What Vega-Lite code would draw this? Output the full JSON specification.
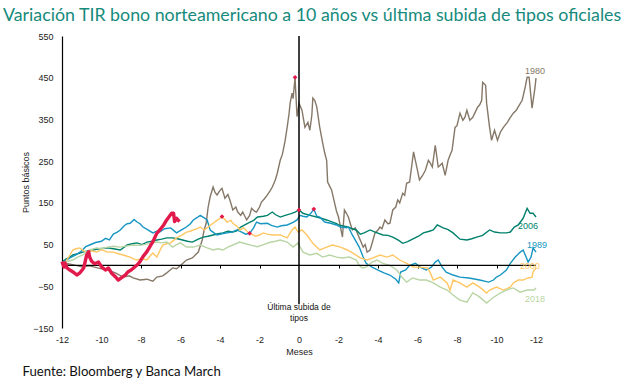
{
  "$schema": "https://vega.github.io/schema/vega-lite/v6.json",
  "width": 474,
  "height": 292,
  "autosize": {"type": "none"},
  "padding": {"left": 62, "top": 36, "right": 104, "bottom": 51},
  "background": "white",
  "title": {
    "text": "Variación TIR bono norteamericano a 10 años vs última subida de tipos oficiales",
    "anchor": "start",
    "frame": "group",
    "dx": -59,
    "offset": 12,
    "dy": 19,
    "baseline": "alphabetic",
    "font": "Lato",
    "fontSize": 17.8,
    "fontWeight": "normal",
    "color": "#168a7c"
  },
  "config": {
    "view": {"stroke": null},
    "axis": {"labelFont": "Liberation Sans", "titleFont": "Liberation Sans", "labelColor": "#222222", "titleColor": "#222222", "grid": false}
  },
  "datasets": {
    "hist": [
      {"s":"1980","m":-12,"v":2},{"s":"1980","m":-11.7,"v":4},{"s":"1980","m":-11.3,"v":0},{"s":"1980","m":-11,"v":-3},{"s":"1980","m":-10.6,"v":-1},{"s":"1980","m":-10.2,"v":-6},{"s":"1980","m":-9.7,"v":-11},{"s":"1980","m":-9.3,"v":-18},{"s":"1980","m":-8.9,"v":-28},{"s":"1980","m":-8.6,"v":-25},{"s":"1980","m":-8.4,"v":-30},{"s":"1980","m":-8.05,"v":-35},{"s":"1980","m":-7.7,"v":-33},{"s":"1980","m":-7.4,"v":-38},{"s":"1980","m":-7.2,"v":-28},{"s":"1980","m":-6.9,"v":-25},{"s":"1980","m":-6.7,"v":-18},{"s":"1980","m":-6.4,"v":-6},{"s":"1980","m":-6.2,"v":-8},{"s":"1980","m":-6,"v":0},{"s":"1980","m":-5.7,"v":13},{"s":"1980","m":-5.4,"v":18},{"s":"1980","m":-5.1,"v":32},{"s":"1980","m":-4.9,"v":61},{"s":"1980","m":-4.8,"v":85},{"s":"1980","m":-4.7,"v":101},{"s":"1980","m":-4.6,"v":140},{"s":"1980","m":-4.5,"v":164},{"s":"1980","m":-4.35,"v":188},{"s":"1980","m":-4.25,"v":175},{"s":"1980","m":-4.15,"v":169},{"s":"1980","m":-4,"v":180},{"s":"1980","m":-3.9,"v":185},{"s":"1980","m":-3.75,"v":161},{"s":"1980","m":-3.6,"v":170},{"s":"1980","m":-3.5,"v":157},{"s":"1980","m":-3.35,"v":133},{"s":"1980","m":-3.2,"v":140},{"s":"1980","m":-3.1,"v":128},{"s":"1980","m":-2.95,"v":120},{"s":"1980","m":-2.85,"v":128},{"s":"1980","m":-2.65,"v":109},{"s":"1980","m":-2.5,"v":120},{"s":"1980","m":-2.4,"v":137},{"s":"1980","m":-2.25,"v":130},{"s":"1980","m":-2.15,"v":128},{"s":"1980","m":-2,"v":140},{"s":"1980","m":-1.9,"v":152},{"s":"1980","m":-1.75,"v":160},{"s":"1980","m":-1.6,"v":169},{"s":"1980","m":-1.45,"v":180},{"s":"1980","m":-1.35,"v":188},{"s":"1980","m":-1.2,"v":205},{"s":"1980","m":-1.1,"v":221},{"s":"1980","m":-0.95,"v":252},{"s":"1980","m":-0.85,"v":265},{"s":"1980","m":-0.8,"v":276},{"s":"1980","m":-0.7,"v":300},{"s":"1980","m":-0.6,"v":331},{"s":"1980","m":-0.5,"v":365},{"s":"1980","m":-0.45,"v":389},{"s":"1980","m":-0.35,"v":413},{"s":"1980","m":-0.3,"v":400},{"s":"1980","m":-0.2,"v":449},{"s":"1980","m":-0.1,"v":357},{"s":"1980","m":-0.05,"v":370},{"s":"1980","m":0,"v":389},{"s":"1980","m":0.15,"v":372},{"s":"1980","m":0.3,"v":331},{"s":"1980","m":0.45,"v":343},{"s":"1980","m":0.55,"v":324},{"s":"1980","m":0.65,"v":360},{"s":"1980","m":0.7,"v":401},{"s":"1980","m":0.8,"v":395},{"s":"1980","m":0.9,"v":380},{"s":"1980","m":1.05,"v":331},{"s":"1980","m":1.2,"v":293},{"s":"1980","m":1.3,"v":270},{"s":"1980","m":1.4,"v":252},{"s":"1980","m":1.45,"v":200},{"s":"1980","m":1.55,"v":190},{"s":"1980","m":1.65,"v":181},{"s":"1980","m":1.8,"v":150},{"s":"1980","m":1.9,"v":130},{"s":"1980","m":2,"v":116},{"s":"1980","m":2.1,"v":92},{"s":"1980","m":2.2,"v":68},{"s":"1980","m":2.3,"v":133},{"s":"1980","m":2.4,"v":125},{"s":"1980","m":2.5,"v":116},{"s":"1980","m":2.6,"v":100},{"s":"1980","m":2.7,"v":85},{"s":"1980","m":2.85,"v":90},{"s":"1980","m":2.95,"v":78},{"s":"1980","m":3.1,"v":61},{"s":"1980","m":3.25,"v":44},{"s":"1980","m":3.35,"v":50},{"s":"1980","m":3.45,"v":32},{"s":"1980","m":3.6,"v":37},{"s":"1980","m":3.7,"v":53},{"s":"1980","m":3.85,"v":78},{"s":"1980","m":4,"v":85},{"s":"1980","m":4.1,"v":92},{"s":"1980","m":4.2,"v":88},{"s":"1980","m":4.35,"v":109},{"s":"1980","m":4.5,"v":100},{"s":"1980","m":4.6,"v":101},{"s":"1980","m":4.75,"v":133},{"s":"1980","m":4.9,"v":140},{"s":"1980","m":5,"v":157},{"s":"1980","m":5.1,"v":150},{"s":"1980","m":5.25,"v":173},{"s":"1980","m":5.35,"v":168},{"s":"1980","m":5.45,"v":197},{"s":"1980","m":5.6,"v":200},{"s":"1980","m":5.7,"v":236},{"s":"1980","m":5.8,"v":272},{"s":"1980","m":5.9,"v":250},{"s":"1980","m":6,"v":228},{"s":"1980","m":6.1,"v":205},{"s":"1980","m":6.25,"v":215},{"s":"1980","m":6.4,"v":228},{"s":"1980","m":6.55,"v":252},{"s":"1980","m":6.65,"v":245},{"s":"1980","m":6.75,"v":236},{"s":"1980","m":6.9,"v":288},{"s":"1980","m":7.05,"v":236},{"s":"1980","m":7.15,"v":240},{"s":"1980","m":7.25,"v":245},{"s":"1980","m":7.4,"v":216},{"s":"1980","m":7.55,"v":252},{"s":"1980","m":7.65,"v":265},{"s":"1980","m":7.75,"v":276},{"s":"1980","m":7.9,"v":331},{"s":"1980","m":8,"v":335},{"s":"1980","m":8.15,"v":365},{"s":"1980","m":8.3,"v":348},{"s":"1980","m":8.4,"v":355},{"s":"1980","m":8.5,"v":372},{"s":"1980","m":8.65,"v":348},{"s":"1980","m":8.8,"v":355},{"s":"1980","m":8.9,"v":365},{"s":"1980","m":9.05,"v":380},{"s":"1980","m":9.15,"v":385},{"s":"1980","m":9.25,"v":396},{"s":"1980","m":9.3,"v":439},{"s":"1980","m":9.45,"v":432},{"s":"1980","m":9.5,"v":389},{"s":"1980","m":9.65,"v":331},{"s":"1980","m":9.75,"v":300},{"s":"1980","m":9.9,"v":324},{"s":"1980","m":10.05,"v":300},{"s":"1980","m":10.2,"v":320},{"s":"1980","m":10.35,"v":331},{"s":"1980","m":10.55,"v":343},{"s":"1980","m":10.7,"v":355},{"s":"1980","m":10.85,"v":365},{"s":"1980","m":11,"v":372},{"s":"1980","m":11.1,"v":380},{"s":"1980","m":11.3,"v":396},{"s":"1980","m":11.45,"v":427},{"s":"1980","m":11.55,"v":451},{"s":"1980","m":11.65,"v":451},{"s":"1980","m":11.8,"v":377},{"s":"1980","m":11.95,"v":427},{"s":"1980","m":12,"v":449},

      {"s":"2006","m":-12,"v":8},{"s":"2006","m":-11.8,"v":15},{"s":"2006","m":-11.6,"v":20},{"s":"2006","m":-11.45,"v":25},{"s":"2006","m":-11.2,"v":28},{"s":"2006","m":-10.95,"v":32},{"s":"2006","m":-10.7,"v":35},{"s":"2006","m":-10.45,"v":37},{"s":"2006","m":-10.1,"v":40},{"s":"2006","m":-9.7,"v":42},{"s":"2006","m":-9.4,"v":40},{"s":"2006","m":-9.05,"v":37},{"s":"2006","m":-8.85,"v":44},{"s":"2006","m":-8.7,"v":49},{"s":"2006","m":-8.45,"v":52},{"s":"2006","m":-8.2,"v":54},{"s":"2006","m":-7.95,"v":50},{"s":"2006","m":-7.7,"v":56},{"s":"2006","m":-7.45,"v":58},{"s":"2006","m":-7.2,"v":61},{"s":"2006","m":-6.95,"v":63},{"s":"2006","m":-6.7,"v":66},{"s":"2006","m":-6.4,"v":66},{"s":"2006","m":-6.15,"v":64},{"s":"2006","m":-5.9,"v":61},{"s":"2006","m":-5.65,"v":58},{"s":"2006","m":-5.4,"v":56},{"s":"2006","m":-5.1,"v":63},{"s":"2006","m":-4.85,"v":68},{"s":"2006","m":-4.6,"v":70},{"s":"2006","m":-4.35,"v":73},{"s":"2006","m":-4.1,"v":76},{"s":"2006","m":-3.85,"v":78},{"s":"2006","m":-3.6,"v":82},{"s":"2006","m":-3.35,"v":80},{"s":"2006","m":-3.15,"v":83},{"s":"2006","m":-2.95,"v":92},{"s":"2006","m":-2.6,"v":101},{"s":"2006","m":-2.3,"v":108},{"s":"2006","m":-2.1,"v":116},{"s":"2006","m":-1.8,"v":118},{"s":"2006","m":-1.6,"v":120},{"s":"2006","m":-1.35,"v":128},{"s":"2006","m":-1.2,"v":122},{"s":"2006","m":-0.95,"v":116},{"s":"2006","m":-0.7,"v":120},{"s":"2006","m":-0.4,"v":124},{"s":"2006","m":-0.2,"v":128},{"s":"2006","m":0,"v":133},{"s":"2006","m":0.2,"v":125},{"s":"2006","m":0.55,"v":120},{"s":"2006","m":0.9,"v":116},{"s":"2006","m":1.2,"v":112},{"s":"2006","m":1.4,"v":109},{"s":"2006","m":1.7,"v":104},{"s":"2006","m":1.9,"v":100},{"s":"2006","m":2,"v":97},{"s":"2006","m":2.3,"v":94},{"s":"2006","m":2.5,"v":92},{"s":"2006","m":2.7,"v":88},{"s":"2006","m":2.9,"v":85},{"s":"2006","m":3.1,"v":75},{"s":"2006","m":3.3,"v":78},{"s":"2006","m":3.6,"v":85},{"s":"2006","m":3.85,"v":80},{"s":"2006","m":4.25,"v":73},{"s":"2006","m":4.5,"v":72},{"s":"2006","m":4.75,"v":68},{"s":"2006","m":5.05,"v":60},{"s":"2006","m":5.25,"v":53},{"s":"2006","m":5.5,"v":57},{"s":"2006","m":5.8,"v":64},{"s":"2006","m":6.05,"v":70},{"s":"2006","m":6.3,"v":78},{"s":"2006","m":6.6,"v":82},{"s":"2006","m":6.8,"v":85},{"s":"2006","m":7,"v":97},{"s":"2006","m":7.3,"v":90},{"s":"2006","m":7.55,"v":86},{"s":"2006","m":7.8,"v":78},{"s":"2006","m":8.15,"v":63},{"s":"2006","m":8.5,"v":61},{"s":"2006","m":8.75,"v":64},{"s":"2006","m":9,"v":68},{"s":"2006","m":9.3,"v":72},{"s":"2006","m":9.65,"v":85},{"s":"2006","m":9.9,"v":80},{"s":"2006","m":10.2,"v":78},{"s":"2006","m":10.5,"v":78},{"s":"2006","m":10.7,"v":80},{"s":"2006","m":10.9,"v":92},{"s":"2006","m":11.1,"v":97},{"s":"2006","m":11.35,"v":113},{"s":"2006","m":11.55,"v":137},{"s":"2006","m":11.7,"v":125},{"s":"2006","m":11.85,"v":125},{"s":"2006","m":12,"v":116},

      {"s":"1989","m":-12,"v":5},{"s":"1989","m":-11.8,"v":12},{"s":"1989","m":-11.6,"v":18},{"s":"1989","m":-11.3,"v":25},{"s":"1989","m":-11,"v":35},{"s":"1989","m":-10.8,"v":45},{"s":"1989","m":-10.6,"v":49},{"s":"1989","m":-10.3,"v":55},{"s":"1989","m":-10,"v":58},{"s":"1989","m":-9.8,"v":65},{"s":"1989","m":-9.6,"v":61},{"s":"1989","m":-9.4,"v":75},{"s":"1989","m":-9.2,"v":80},{"s":"1989","m":-9.05,"v":85},{"s":"1989","m":-8.85,"v":95},{"s":"1989","m":-8.7,"v":100},{"s":"1989","m":-8.55,"v":101},{"s":"1989","m":-8.35,"v":110},{"s":"1989","m":-8.2,"v":104},{"s":"1989","m":-8.05,"v":100},{"s":"1989","m":-7.9,"v":92},{"s":"1989","m":-7.65,"v":85},{"s":"1989","m":-7.4,"v":78},{"s":"1989","m":-7.2,"v":82},{"s":"1989","m":-7.05,"v":80},{"s":"1989","m":-6.8,"v":88},{"s":"1989","m":-6.5,"v":90},{"s":"1989","m":-6.35,"v":84},{"s":"1989","m":-6.2,"v":78},{"s":"1989","m":-5.95,"v":85},{"s":"1989","m":-5.7,"v":92},{"s":"1989","m":-5.5,"v":100},{"s":"1989","m":-5.35,"v":109},{"s":"1989","m":-5.15,"v":115},{"s":"1989","m":-5,"v":120},{"s":"1989","m":-4.8,"v":114},{"s":"1989","m":-4.65,"v":109},{"s":"1989","m":-4.5,"v":85},{"s":"1989","m":-4.3,"v":78},{"s":"1989","m":-4.15,"v":73},{"s":"1989","m":-3.9,"v":76},{"s":"1989","m":-3.65,"v":78},{"s":"1989","m":-3.4,"v":80},{"s":"1989","m":-3.15,"v":85},{"s":"1989","m":-2.9,"v":80},{"s":"1989","m":-2.7,"v":75},{"s":"1989","m":-2.5,"v":77},{"s":"1989","m":-2.3,"v":90},{"s":"1989","m":-2.15,"v":104},{"s":"1989","m":-1.95,"v":100},{"s":"1989","m":-1.6,"v":101},{"s":"1989","m":-1.4,"v":96},{"s":"1989","m":-1.1,"v":92},{"s":"1989","m":-0.9,"v":95},{"s":"1989","m":-0.6,"v":97},{"s":"1989","m":-0.3,"v":103},{"s":"1989","m":-0.1,"v":109},{"s":"1989","m":0.05,"v":120},{"s":"1989","m":0.2,"v":118},{"s":"1989","m":0.4,"v":116},{"s":"1989","m":0.6,"v":125},{"s":"1989","m":0.75,"v":135},{"s":"1989","m":0.9,"v":118},{"s":"1989","m":1.05,"v":116},{"s":"1989","m":1.3,"v":104},{"s":"1989","m":1.6,"v":101},{"s":"1989","m":1.9,"v":97},{"s":"1989","m":2.1,"v":92},{"s":"1989","m":2.4,"v":90},{"s":"1989","m":2.5,"v":92},{"s":"1989","m":2.7,"v":73},{"s":"1989","m":2.8,"v":65},{"s":"1989","m":3.05,"v":44},{"s":"1989","m":3.25,"v":20},{"s":"1989","m":3.4,"v":5},{"s":"1989","m":3.7,"v":-4},{"s":"1989","m":4,"v":-11},{"s":"1989","m":4.3,"v":-18},{"s":"1989","m":4.6,"v":-23},{"s":"1989","m":4.9,"v":-33},{"s":"1989","m":5.05,"v":-42},{"s":"1989","m":5.15,"v":-16},{"s":"1989","m":5.4,"v":-11},{"s":"1989","m":5.6,"v":0},{"s":"1989","m":5.9,"v":5},{"s":"1989","m":6.2,"v":-6},{"s":"1989","m":6.45,"v":-11},{"s":"1989","m":6.7,"v":-4},{"s":"1989","m":6.9,"v":8},{"s":"1989","m":7.05,"v":13},{"s":"1989","m":7.25,"v":-4},{"s":"1989","m":7.45,"v":-16},{"s":"1989","m":7.8,"v":-23},{"s":"1989","m":8.15,"v":-28},{"s":"1989","m":8.6,"v":-30},{"s":"1989","m":9.15,"v":-35},{"s":"1989","m":9.6,"v":-40},{"s":"1989","m":9.85,"v":-35},{"s":"1989","m":10,"v":-28},{"s":"1989","m":10.2,"v":-23},{"s":"1989","m":10.5,"v":-11},{"s":"1989","m":10.7,"v":5},{"s":"1989","m":10.95,"v":20},{"s":"1989","m":11.2,"v":32},{"s":"1989","m":11.35,"v":37},{"s":"1989","m":11.5,"v":20},{"s":"1989","m":11.6,"v":8},{"s":"1989","m":11.75,"v":20},{"s":"1989","m":11.85,"v":42},{"s":"1989","m":12,"v":32},

      {"s":"2000","m":-12,"v":3},{"s":"2000","m":-11.8,"v":10},{"s":"2000","m":-11.6,"v":25},{"s":"2000","m":-11.45,"v":37},{"s":"2000","m":-11.3,"v":40},{"s":"2000","m":-11.1,"v":42},{"s":"2000","m":-10.9,"v":35},{"s":"2000","m":-10.75,"v":32},{"s":"2000","m":-10.5,"v":35},{"s":"2000","m":-10.25,"v":32},{"s":"2000","m":-10,"v":38},{"s":"2000","m":-9.7,"v":32},{"s":"2000","m":-9.4,"v":32},{"s":"2000","m":-9.15,"v":28},{"s":"2000","m":-8.9,"v":25},{"s":"2000","m":-8.7,"v":22},{"s":"2000","m":-8.55,"v":20},{"s":"2000","m":-8.35,"v":15},{"s":"2000","m":-8.2,"v":13},{"s":"2000","m":-7.95,"v":16},{"s":"2000","m":-7.7,"v":13},{"s":"2000","m":-7.55,"v":22},{"s":"2000","m":-7.4,"v":30},{"s":"2000","m":-7.2,"v":20},{"s":"2000","m":-7.05,"v":35},{"s":"2000","m":-6.9,"v":49},{"s":"2000","m":-6.7,"v":52},{"s":"2000","m":-6.5,"v":54},{"s":"2000","m":-6.35,"v":60},{"s":"2000","m":-6.2,"v":66},{"s":"2000","m":-5.95,"v":72},{"s":"2000","m":-5.7,"v":80},{"s":"2000","m":-5.5,"v":82},{"s":"2000","m":-5.35,"v":85},{"s":"2000","m":-5.15,"v":88},{"s":"2000","m":-5,"v":92},{"s":"2000","m":-4.8,"v":85},{"s":"2000","m":-4.65,"v":90},{"s":"2000","m":-4.5,"v":96},{"s":"2000","m":-4.35,"v":101},{"s":"2000","m":-4.15,"v":108},{"s":"2000","m":-4,"v":113},{"s":"2000","m":-3.9,"v":117},{"s":"2000","m":-3.75,"v":110},{"s":"2000","m":-3.65,"v":104},{"s":"2000","m":-3.45,"v":108},{"s":"2000","m":-3.35,"v":101},{"s":"2000","m":-3.1,"v":92},{"s":"2000","m":-3,"v":85},{"s":"2000","m":-2.8,"v":90},{"s":"2000","m":-2.6,"v":80},{"s":"2000","m":-2.4,"v":75},{"s":"2000","m":-2.2,"v":70},{"s":"2000","m":-2,"v":73},{"s":"2000","m":-1.8,"v":78},{"s":"2000","m":-1.6,"v":75},{"s":"2000","m":-1.35,"v":73},{"s":"2000","m":-0.95,"v":73},{"s":"2000","m":-0.6,"v":66},{"s":"2000","m":-0.35,"v":85},{"s":"2000","m":-0.2,"v":92},{"s":"2000","m":-0.05,"v":80},{"s":"2000","m":0.15,"v":85},{"s":"2000","m":0.4,"v":73},{"s":"2000","m":0.7,"v":53},{"s":"2000","m":1.05,"v":37},{"s":"2000","m":1.4,"v":44},{"s":"2000","m":1.7,"v":49},{"s":"2000","m":2.1,"v":44},{"s":"2000","m":2.45,"v":37},{"s":"2000","m":2.75,"v":29},{"s":"2000","m":3.1,"v":18},{"s":"2000","m":3.45,"v":13},{"s":"2000","m":3.75,"v":18},{"s":"2000","m":4.1,"v":25},{"s":"2000","m":4.45,"v":20},{"s":"2000","m":4.75,"v":25},{"s":"2000","m":5.1,"v":13},{"s":"2000","m":5.45,"v":5},{"s":"2000","m":5.8,"v":-4},{"s":"2000","m":6.1,"v":-4},{"s":"2000","m":6.5,"v":-6},{"s":"2000","m":6.65,"v":-18},{"s":"2000","m":6.8,"v":-35},{"s":"2000","m":7.15,"v":-28},{"s":"2000","m":7.5,"v":-42},{"s":"2000","m":7.65,"v":-59},{"s":"2000","m":7.8,"v":-35},{"s":"2000","m":8.15,"v":-42},{"s":"2000","m":8.5,"v":-52},{"s":"2000","m":8.8,"v":-42},{"s":"2000","m":9.15,"v":-52},{"s":"2000","m":9.5,"v":-66},{"s":"2000","m":9.65,"v":-59},{"s":"2000","m":10,"v":-52},{"s":"2000","m":10.35,"v":-59},{"s":"2000","m":10.7,"v":-52},{"s":"2000","m":10.85,"v":-42},{"s":"2000","m":11.1,"v":-35},{"s":"2000","m":11.35,"v":-35},{"s":"2000","m":11.6,"v":-30},{"s":"2000","m":11.8,"v":-28},{"s":"2000","m":11.85,"v":-16},{"s":"2000","m":12,"v":-6},

      {"s":"2018","m":-12,"v":5},{"s":"2018","m":-11.7,"v":10},{"s":"2018","m":-11.45,"v":13},{"s":"2018","m":-11.2,"v":20},{"s":"2018","m":-10.95,"v":25},{"s":"2018","m":-10.6,"v":37},{"s":"2018","m":-10.25,"v":42},{"s":"2018","m":-10,"v":40},{"s":"2018","m":-9.7,"v":44},{"s":"2018","m":-9.4,"v":46},{"s":"2018","m":-9.05,"v":44},{"s":"2018","m":-8.7,"v":47},{"s":"2018","m":-8.4,"v":49},{"s":"2018","m":-8.05,"v":48},{"s":"2018","m":-7.7,"v":51},{"s":"2018","m":-7.45,"v":53},{"s":"2018","m":-7.2,"v":56},{"s":"2018","m":-6.95,"v":54},{"s":"2018","m":-6.7,"v":56},{"s":"2018","m":-6.4,"v":44},{"s":"2018","m":-6.2,"v":50},{"s":"2018","m":-6,"v":54},{"s":"2018","m":-5.7,"v":44},{"s":"2018","m":-5.35,"v":44},{"s":"2018","m":-5,"v":49},{"s":"2018","m":-4.65,"v":42},{"s":"2018","m":-4.35,"v":37},{"s":"2018","m":-4.1,"v":40},{"s":"2018","m":-3.85,"v":37},{"s":"2018","m":-3.6,"v":44},{"s":"2018","m":-3.35,"v":49},{"s":"2018","m":-3,"v":56},{"s":"2018","m":-2.7,"v":52},{"s":"2018","m":-2.4,"v":48},{"s":"2018","m":-2.1,"v":45},{"s":"2018","m":-1.8,"v":50},{"s":"2018","m":-1.5,"v":55},{"s":"2018","m":-1.2,"v":58},{"s":"2018","m":-0.95,"v":61},{"s":"2018","m":-0.6,"v":56},{"s":"2018","m":-0.3,"v":44},{"s":"2018","m":-0.05,"v":54},{"s":"2018","m":0.2,"v":32},{"s":"2018","m":0.55,"v":25},{"s":"2018","m":0.9,"v":29},{"s":"2018","m":1.2,"v":20},{"s":"2018","m":1.55,"v":25},{"s":"2018","m":1.9,"v":20},{"s":"2018","m":2.2,"v":18},{"s":"2018","m":2.55,"v":20},{"s":"2018","m":2.9,"v":13},{"s":"2018","m":3.05,"v":0},{"s":"2018","m":3.2,"v":-6},{"s":"2018","m":3.4,"v":-4},{"s":"2018","m":3.7,"v":8},{"s":"2018","m":3.95,"v":13},{"s":"2018","m":4.25,"v":5},{"s":"2018","m":4.6,"v":0},{"s":"2018","m":4.95,"v":-11},{"s":"2018","m":5.25,"v":-30},{"s":"2018","m":5.45,"v":-40},{"s":"2018","m":5.75,"v":-30},{"s":"2018","m":6.1,"v":-35},{"s":"2018","m":6.45,"v":-35},{"s":"2018","m":6.8,"v":-42},{"s":"2018","m":7.15,"v":-52},{"s":"2018","m":7.5,"v":-59},{"s":"2018","m":7.8,"v":-71},{"s":"2018","m":8.15,"v":-83},{"s":"2018","m":8.5,"v":-88},{"s":"2018","m":8.8,"v":-66},{"s":"2018","m":9,"v":-71},{"s":"2018","m":9.15,"v":-76},{"s":"2018","m":9.5,"v":-90},{"s":"2018","m":9.8,"v":-78},{"s":"2018","m":10.2,"v":-66},{"s":"2018","m":10.5,"v":-59},{"s":"2018","m":10.85,"v":-54},{"s":"2018","m":11.2,"v":-64},{"s":"2018","m":11.55,"v":-59},{"s":"2018","m":11.9,"v":-59},{"s":"2018","m":12,"v":-54}
    ],
    "actual": [
      {"s":"actual","m":-12,"v":9},{"s":"actual","m":-11.9,"v":-4},{"s":"actual","m":-11.85,"v":6},{"s":"actual","m":-11.75,"v":-6},{"s":"actual","m":-11.6,"v":-11},{"s":"actual","m":-11.4,"v":-17},{"s":"actual","m":-11.25,"v":-23},{"s":"actual","m":-11.1,"v":-18},{"s":"actual","m":-10.9,"v":-6},{"s":"actual","m":-10.75,"v":25},{"s":"actual","m":-10.65,"v":33},{"s":"actual","m":-10.6,"v":20},{"s":"actual","m":-10.5,"v":10},{"s":"actual","m":-10.35,"v":4},{"s":"actual","m":-10.15,"v":8},{"s":"actual","m":-10,"v":-3},{"s":"actual","m":-9.8,"v":-11},{"s":"actual","m":-9.65,"v":-6},{"s":"actual","m":-9.5,"v":-18},{"s":"actual","m":-9.3,"v":-27},{"s":"actual","m":-9.15,"v":-35},{"s":"actual","m":-9,"v":-30},{"s":"actual","m":-8.8,"v":-23},{"s":"actual","m":-8.65,"v":-15},{"s":"actual","m":-8.5,"v":-11},{"s":"actual","m":-8.2,"v":1},{"s":"actual","m":-8.05,"v":9},{"s":"actual","m":-7.9,"v":21},{"s":"actual","m":-7.7,"v":33},{"s":"actual","m":-7.55,"v":45},{"s":"actual","m":-7.4,"v":57},{"s":"actual","m":-7.2,"v":77},{"s":"actual","m":-7.05,"v":85},{"s":"actual","m":-6.85,"v":97},{"s":"actual","m":-6.7,"v":109},{"s":"actual","m":-6.45,"v":125},{"s":"actual","m":-6.35,"v":125},{"s":"actual","m":-6.3,"v":105},{"s":"actual","m":-6.2,"v":113},{"s":"actual","m":-6.05,"v":105}
    ],
    "maximos": [
      {"m":-0.2,"v":451},{"m":0,"v":133},{"m":0.75,"v":135},{"m":-3.9,"v":117},{"m":-2.5,"v":77}
    ],
    "etiquetas": [
      {"s":"1980","t":"1980","m":11.95,"v":466},
      {"s":"2006","t":"2006","m":11.6,"v":95},
      {"s":"1989","t":"1989","m":12.05,"v":49},
      {"s":"2000","t":"2000","m":11.7,"v":-1},
      {"s":"2018","t":"2018","m":11.95,"v":-80}
    ]
  },
  "layer": [
    {
      "data": {"name": "hist"},
      "mark": {"type": "line", "strokeWidth": 1.4, "interpolate": "linear"},
      "encoding": {
        "x": {"field": "m", "type": "quantitative", "scale": {"domain": [-12, 12], "nice": false, "zero": false},
          "axis": {"values": [-12,-10,-8,-6,-4,-2,0,2,4,6,8,10,12], "labelExpr": "datum.value === 0 ? '0' : '-' + abs(datum.value)", "labelFlush": false, "domain": false, "ticks": false, "labelFontSize": 9, "labelPadding": 7, "title": "Meses", "titleFontSize": 9, "titleFontWeight": "normal", "titlePadding": 3}},
        "y": {"field": "v", "type": "quantitative", "scale": {"domain": [-150, 550], "nice": false},
          "axis": {"values": [-150,-50,50,150,250,350,450,550], "labelFlush": false, "domain": true, "domainColor": "#000000", "domainWidth": 1.2, "ticks": false, "labelFontSize": 9, "labelPadding": 9, "title": "Puntos básicos", "titleFontSize": 9, "titleFontWeight": "normal", "titlePadding": 2}},
        "color": {"field": "s", "type": "nominal", "legend": null,
          "scale": {"domain": ["1980","2006","1989","2000","2018","actual"], "range": ["#857868","#00816c","#1796c2","#ffc764","#b9d5a5","#e2194b"]}},
        "strokeWidth": {"condition": {"test": "datum.s === '2018'", "value": 2.2}, "value": 1.4}
      }
    },
    {
      "data": {"values": [{"a": -12, "b": 12, "v": 0}]},
      "mark": {"type": "rule", "color": "#000000", "strokeWidth": 1.2},
      "encoding": {
        "x": {"field": "a", "type": "quantitative",
          "axis": {"orient": "bottom", "offset": -63, "values": [-10,-8,-6,-4,-2,2,4,6,8,10], "labels": false, "domain": false, "ticks": true, "tickSize": 3, "tickColor": "#000000", "tickWidth": 1,
            "title": "Fuente: Bloomberg y Banca March", "titleFont": "Lato", "titleFontSize": 13.2, "titleFontWeight": "normal", "titleColor": "#111111", "titleAlign": "left", "titleAnchor": "start", "titleBaseline": "alphabetic", "titleX": -40, "titleY": 110}},
        "x2": {"field": "b"},
        "y": {"field": "v", "type": "quantitative", "axis": null}
      }
    },
    {
      "data": {"values": [{"m": 0, "v0": -93, "v1": 550}]},
      "mark": {"type": "rule", "color": "#000000", "strokeWidth": 1.5},
      "encoding": {
        "x": {"field": "m", "type": "quantitative", "axis": null},
        "y": {"field": "v0", "type": "quantitative", "axis": null},
        "y2": {"field": "v1"}
      }
    },
    {
      "data": {"name": "actual"},
      "mark": {"type": "line", "strokeWidth": 3.4, "strokeJoin": "round"},
      "encoding": {
        "x": {"field": "m", "type": "quantitative", "axis": null},
        "y": {"field": "v", "type": "quantitative", "axis": null},
        "color": {"field": "s", "type": "nominal", "legend": null}
      }
    },
    {
      "data": {"name": "maximos"},
      "mark": {"type": "point", "shape": "diamond", "filled": true, "size": 22, "color": "#e2194b", "opacity": 1},
      "encoding": {
        "x": {"field": "m", "type": "quantitative", "axis": null},
        "y": {"field": "v", "type": "quantitative", "axis": null}
      }
    },
    {
      "data": {"name": "etiquetas"},
      "mark": {"type": "text", "font": "Liberation Sans", "fontSize": 9, "align": "center", "baseline": "middle"},
      "encoding": {
        "x": {"field": "m", "type": "quantitative", "axis": null},
        "y": {"field": "v", "type": "quantitative", "axis": null},
        "text": {"field": "t"},
        "color": {"field": "s", "type": "nominal", "legend": null}
      }
    },
    {
      "data": {"values": [{"m": 0, "v": -90, "t": ["Última subida de", "tipos"]}]},
      "mark": {"type": "text", "font": "Liberation Sans", "fontSize": 8.5, "align": "center", "baseline": "top", "lineHeight": 11, "color": "#111111"},
      "encoding": {
        "x": {"field": "m", "type": "quantitative", "axis": null},
        "y": {"field": "v", "type": "quantitative", "axis": null},
        "text": {"field": "t"}
      }
    }
  ],
  "resolve": {"axis": {"x": "independent", "y": "independent"}}
}
